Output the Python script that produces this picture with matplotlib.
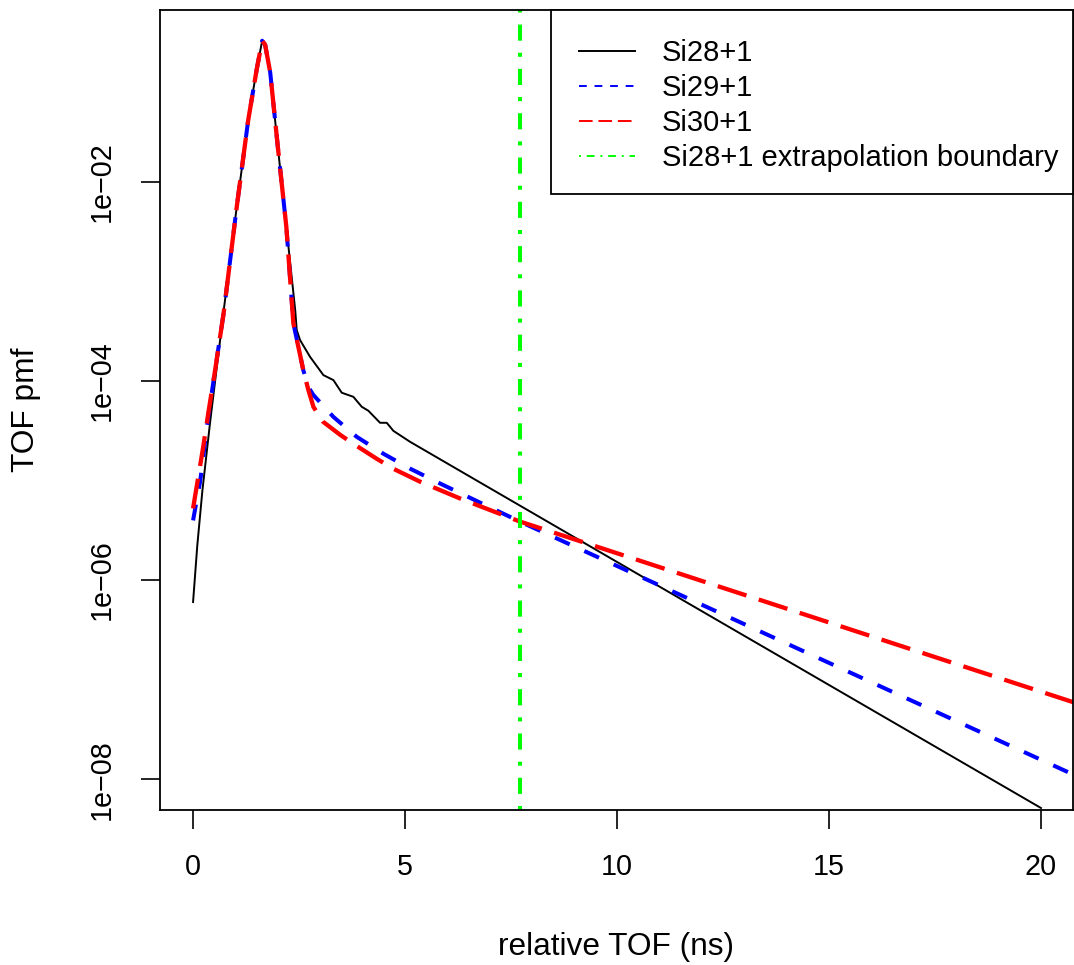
import numpy as np
import matplotlib
matplotlib.use("Agg")
from matplotlib import pyplot as plt
from matplotlib.lines import Line2D
from matplotlib.path import Path

plt.rcParams['font.family'] = ['Liberation Sans', 'DejaVu Sans']
plt.rcParams['font.size'] = 20.7

#values, pmf given as log10
si28_x = [0, 0.1, 0.22, 0.40, 0.72, 1.03, 1.30, 1.50, 1.63, 1.70, 1.82, 2.0, 2.2, 2.41,
          2.445, 2.524, 2.759, 3.074, 3.31, 3.507, 3.781, 3.978, 4.135, 4.41, 4.568,
          4.725, 5.118, 6.297, 20.0]
si28_log = [-6.22, -5.65, -5.10, -4.42, -3.30, -2.25, -1.38, -0.87, -0.58, -0.62, -0.90,
            -1.65, -2.45, -3.29, -3.487, -3.588, -3.756, -3.94, -3.99, -4.117, -4.158,
            -4.258, -4.298, -4.419, -4.419, -4.50, -4.61, -4.902, -8.29]

si29_x = [0, 0.17, 0.36, 0.52, 0.72, 1.03, 1.30, 1.50, 1.63, 1.70, 1.82, 2.0, 2.2, 2.366,
          2.60, 2.72, 2.838, 3.31, 3.86, 4.49, 5.12, 5.83, 7.70, 21.0]
si29_log = [-5.40, -5.00, -4.35, -3.89, -3.32, -2.25, -1.38, -0.87, -0.58, -0.62, -0.90,
            -1.65, -2.45, -3.42, -3.89, -4.06, -4.14, -4.36, -4.56, -4.73, -4.88, -5.03,
            -5.41, -8.00]

si30_x = [0, 0.24, 0.36, 0.52, 0.72, 1.03, 1.30, 1.50, 1.63, 1.70, 1.82, 2.0, 2.2, 2.366,
          2.60, 2.72, 2.84, 3.07, 3.47, 3.78, 4.33, 4.72, 5.35, 6.30, 7.70, 21.0]
si30_log = [-5.28, -4.66, -4.32, -3.89, -3.32, -2.25, -1.38, -0.87, -0.58, -0.62, -0.90,
            -1.65, -2.45, -3.42, -3.89, -4.09, -4.26, -4.41, -4.54, -4.63, -4.78, -4.88,
            -5.01, -5.18, -5.41, -7.26]

boundary_x = 7.70

series_labels = ['Si28+1', 'Si29+1', 'Si30+1', 'Si28+1 extrapolation boundary']
x_ticks = [0, 5, 10, 15, 20]
y_ticks = [1e-2, 1e-4, 1e-6, 1e-8]
y_tick_labels = ['1e\u221202', '1e\u221204', '1e\u221206', '1e\u221208']

W, H = 1074, 965
fig = plt.figure(figsize=(W/100, H/100), dpi=100)
ax = fig.add_axes([160/W, 1-810/H, (1073-160)/W, 800/H])

ax.plot(si28_x, 10**np.array(si28_log), color='black', lw=1.4)
ax.plot(si29_x, 10**np.array(si29_log), color='#0000ff', lw=2.9, dashes=(4, 4))
ax.plot(si30_x, 10**np.array(si30_log), color='#ff0000', lw=3.1, dashes=(7, 3))
ax.axvline(boundary_x, color='#00ff00', lw=2.9, dashes=(1, 3, 4, 3))

ax.set_yscale('log')
ax.set_xlim(-0.78, 20.755)
ax.set_ylim(10**-8.31, 10**-0.271)
ax.minorticks_off()

ax.set_xticks(x_ticks)
ax.set_yticks(y_ticks)
ax.set_yticklabels(y_tick_labels, rotation=90, va='center')
ax.tick_params(length=14, width=1.2, direction='out')
ax.tick_params(axis='x', pad=17)
ax.tick_params(axis='y', pad=17.5)
for s in ax.spines.values():
    s.set_linewidth(1.3)

ax.set_xlabel('relative TOF (ns)', fontsize=22.8)
ax.xaxis.label.set_va('center')
ax.xaxis.set_label_coords(0.5, -137/800)
ax.set_ylabel('TOF pmf', fontsize=22.8)
ax.yaxis.label.set_va('center')
ax.yaxis.set_label_coords(-134/913, 0.5)

#legend uses thin lines like the original
handles = [Line2D([], [], color='black', lw=1.4),
           Line2D([], [], color='#0000ff', lw=1.4, dashes=(4, 4)),
           Line2D([], [], color='#ff0000', lw=1.4, dashes=(7, 3)),
           Line2D([], [], color='#00ff00', lw=1.4, dashes=(1, 3, 4, 3))]

#R style legend box: more room left and above than right
top_extra, left_extra, bottom_extra = 14.6, 13.4, 7.0

def r_box(x0, y0, width, height, mutation_size):
    x1 = x0 - left_extra
    y1 = y0 - bottom_extra
    x2 = x0 + width
    y2 = y0 + height + top_extra
    return Path([(x1, y1), (x2, y1), (x2, y2), (x1, y2), (x1, y1)], closed=True)

leg = ax.legend(handles, series_labels, loc='upper right',
                bbox_to_anchor=(1, 1 - top_extra/800), borderaxespad=0,
                fancybox=False, framealpha=1, edgecolor='black', fontsize=21,
                handlelength=1.92, handletextpad=0.93, labelspacing=0.24,
                borderpad=0.5)
leg.get_frame().set_boxstyle(r_box)
leg.get_frame().set_linewidth(1.3)

fig.savefig('out.png', dpi=100)
